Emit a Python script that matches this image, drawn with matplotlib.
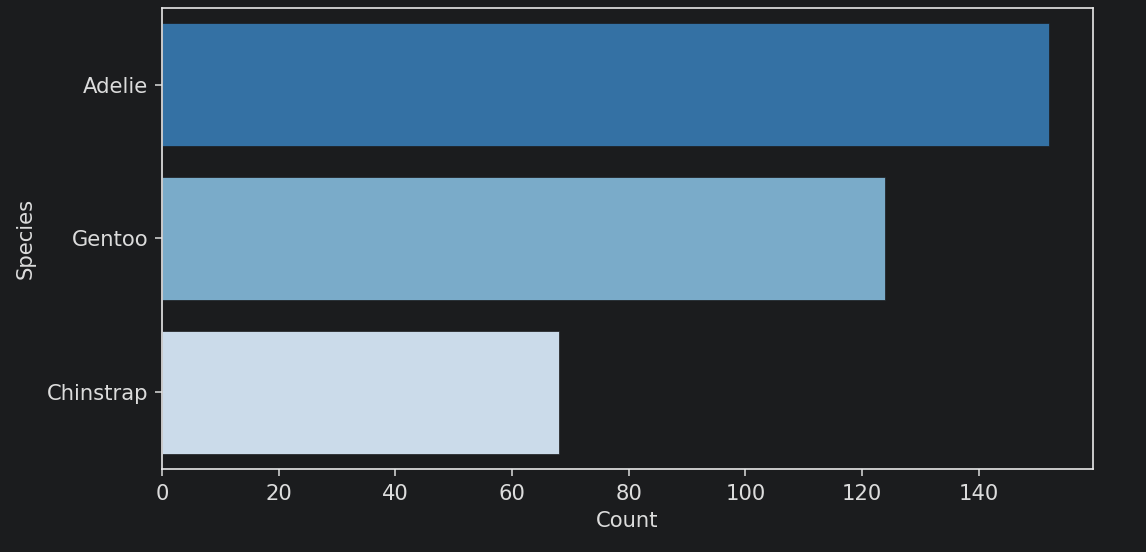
import matplotlib
matplotlib.use("Agg")
import matplotlib.pyplot as plt

# penguin counts per species
species = ["Adelie", "Gentoo", "Chinstrap"]
counts = [152, 124, 68]
bar_colors = ["#3471a4", "#7aabc9", "#cbdbea"]

bg = "#1b1c1e"
fg = "#dcdcdc"

plt.rcParams["font.family"] = ["DejaVu Sans"]
plt.rcParams["font.size"] = 15.2

fig, ax = plt.subplots(figsize=(11.46, 5.52), dpi=100)
fig.patch.set_facecolor(bg)
ax.set_facecolor(bg)
fig.subplots_adjust(left=0.1414, right=0.9538, top=0.9855, bottom=0.1504)

ax.barh(species, counts, height=0.8, color=bar_colors, edgecolor=bg, linewidth=0.5)
ax.set_xlim(0, 159.6)
ax.set_ylim(2.5, -0.5)

ax.set_xlabel("Count", color=fg, labelpad=5)
ax.set_ylabel("Species", color=fg, labelpad=8)
ax.tick_params(colors=fg, labelcolor=fg, length=5, width=1.1, pad=5)
ax.tick_params(axis="x", pad=6)
for s in ax.spines.values():
    s.set_color("#e8e8e8")
    s.set_linewidth(1.2)

fig.savefig("out.png", facecolor=bg)
